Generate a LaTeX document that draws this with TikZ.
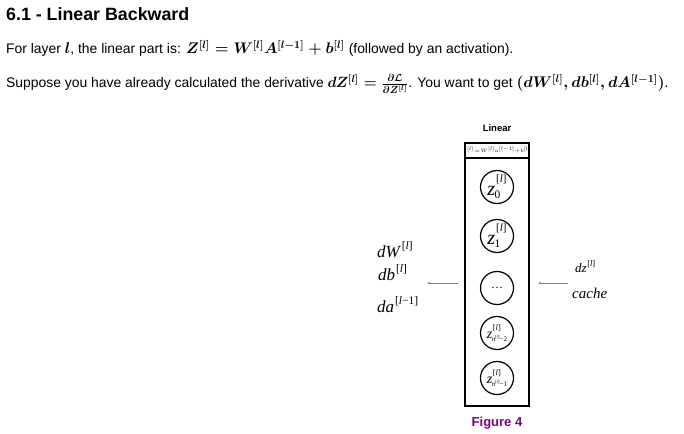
\documentclass[tikz,border=0pt]{standalone}
\usepackage{fontspec}
\usepackage{graphicx}
\setmainfont{Liberation Sans}
\newfontfamily\serifr{Liberation Serif}
\usetikzlibrary{arrows.meta}
\definecolor{figpurple}{HTML}{800080}
\newcommand\hb[2]{\hbox{\fontsize{#1}{#1}\selectfont\serifr #2}}
\newcommand\bm[2]{\scalebox{#1}{\fontsize{14.4}{18}\selectfont\boldmath$#2$}}
\newcommand\li{\textit{l}}
\newsavebox\zsupbox
\newsavebox\zsubbox
% #1 raise of upper, #2 upper content, #3 lowering of lower, #4 lower content
\newcommand\sst[4]{%
 \sbox\zsupbox{#2}\sbox\zsubbox{#4}%
 \ifdim\wd\zsupbox>\wd\zsubbox
   \rlap{\lower#3\copy\zsubbox}\raise#1\copy\zsupbox
 \else
   \rlap{\raise#1\copy\zsupbox}\lower#3\copy\zsubbox
 \fi}
\newcommand\ivar[6]{\hb{#1}{\itshape #2}\kern#6\raise#5\hb{#3}{#4}}
\newcommand\zbig[1]{\hb{20}{\itshape z}\sst{13pt}{\kern1pt\hb{11}{[\li]}}{3pt}{\kern-0.5pt\hb{11.5}{#1}}}
\newcommand\nsub[1]{\hb{7}{\itshape n}\raise3pt\hb{4.5}{[\li]}\hb{7}{−#1}}
\newcommand\zsmall[1]{\hb{14}{\itshape z}\sst{8.5pt}{\kern0.5pt\hb{8.5}{[\li]}}{3pt}{\kern-0.5pt\nsub{#1}}}
\newcommand\lineone{For layer \bm{1.07}{l}, the linear part is: \bm{1.07}{Z^{[l]} = W^{[l]}A^{[l-1]} + b^{[l]}} (followed by an activation).}
\newcommand\linetwo{Suppose you have already calculated the derivative \bm{1.03}{dZ^{[l]} = \frac{\partial \mathcal{L}}{\partial Z^{[l]}}}. You want to get \bm{1.075}{(dW^{[l]}, db^{[l]}, dA^{[l-1]})}.}
\tikzset{
  txt/.style={anchor=base west, inner sep=0pt, font=\fontsize{13.9}{16}\selectfont},
  neuron/.style={circle, draw, line width=1.2pt, minimum size=33pt, inner sep=0pt},
  lbl/.style={anchor=base west, inner sep=0pt},
  garrow/.style={draw=gray, line width=0.6pt, -{Stealth[length=3pt,width=2.5pt]}},
}
\begin{document}
\begin{tikzpicture}[x=1pt,y=-1pt]
\useasboundingbox (0,0) rectangle (684,433);
\node[txt, font=\bfseries\fontsize{17.8}{20}\selectfont] (title) at (6,21) {6.1 - Linear Backward};
\node[txt] (l1) at (6,54) {\lineone};
\node[txt] (l2) at (6,88) {\linetwo};
% layer box
\node[font=\bfseries\fontsize{9.5}{10}\selectfont, inner sep=0pt] (lin) at (497,128) {Linear};
\draw[line width=1.3pt] (465,143) rectangle (529,406);
\draw[line width=1.3pt] (465,158) -- (529,158);
\node[inner sep=0pt, font=\fontsize{4.2}{5}\selectfont] (eq) at (497,150.5) {$z^{[l]}\!=\!W^{[l]}a^{[l-1]}\!+\!b^{[l]}$};
\node[neuron] (n0) at (497,187) {\zbig{0}};
\node[neuron] (n1) at (497,236) {\zbig{1}};
\node[neuron] (n2) at (497,288) {\hb{12}{…}};
\node[neuron] (n3) at (497,333) {\zsmall{2}};
\node[neuron] (n4) at (497,378) {\zsmall{1}};
% left labels
\node[lbl] (dW) at (377,257) {\ivar{17}{dW}{11.5}{[\li]}{7.5pt}{2pt}};
\node[lbl] (db) at (378,280) {\ivar{17}{db}{11.5}{[\li]}{7.5pt}{0.8pt}};
\node[lbl] (da) at (377,312) {\ivar{17}{da}{11.5}{[\li−1]}{7.5pt}{0.8pt}};
\coordinate (la) at (458,283);
\coordinate (lb) at (427,283);
\draw[garrow] (la) -- (lb);
% right labels
\node[lbl] (dz) at (575,272) {\ivar{13}{dz}{8.5}{[\li]}{6pt}{0.5pt}};
\node[lbl] (cache) at (572,298) {\hb{15}{\itshape cache}};
\coordinate (ra) at (568,283);
\coordinate (rb) at (538,283);
\draw[garrow] (ra) -- (rb);
\node[inner sep=0pt, font=\bfseries\fontsize{13}{15}\selectfont, text=figpurple] (fig) at (497,423) {Figure 4};
\end{tikzpicture}
\end{document}
